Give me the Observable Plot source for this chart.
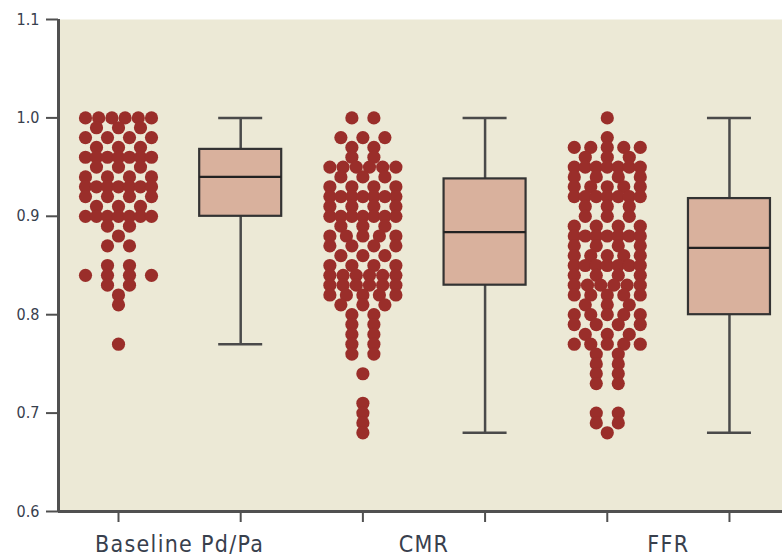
<!DOCTYPE html>
<html><head><meta charset="utf-8">
<script src="https://cdn.jsdelivr.net/npm/d3@7"></script>
<script src="https://cdn.jsdelivr.net/npm/@observablehq/plot@0.6"></script>
<style>
body{margin:0;background:#fff}
g[aria-label="x-axis tick label"] text{letter-spacing:1.3px}
</style>
</head><body><div id="chart"></div>
<script>
// ---- data ----
const groups = ["Baseline Pd/Pa", "CMR", "FFR"];
// value levels of the dot rows (top to bottom)
const levels = [1.00, 0.99, 0.98, 0.97, 0.96, 0.95, 0.94, 0.93, 0.92, 0.91, 0.90,
                0.89, 0.88, 0.87, 0.86, 0.85, 0.84, 0.83, 0.82, 0.81, 0.80,
                0.79, 0.78, 0.77, 0.76, 0.75, 0.74, 0.73, 0.72, 0.71, 0.70, 0.69, 0.68];
// number of dots at each level
const baselineCounts = [6, 3, 4, 3, 7, 3, 4, 7, 4, 3, 7, 2, 1, 2, 0, 2, 4, 2, 1, 1, 0, 0, 0, 1, 0, 0, 0, 0, 0, 0, 0, 0, 0];
const cmrCounts      = [2, 0, 3, 2, 2, 6, 3, 4, 7, 4, 7, 3, 5, 4, 3, 4, 6, 6, 5, 3, 2, 2, 2, 2, 2, 0, 1, 0, 0, 1, 1, 1, 1];
const ffrCounts      = [1, 0, 1, 5, 3, 7, 4, 5, 7, 3, 3, 4, 7, 4, 5, 7, 4, 6, 5, 3, 5, 4, 3, 5, 2, 2, 2, 2, 0, 0, 2, 2, 1];
// box plot statistics
const boxMin    = [0.77, 0.68, 0.68];
const boxQ1     = [0.90, 0.83, 0.80];
const boxMedian = [0.94, 0.884, 0.868];
const boxQ3     = [0.968, 0.938, 0.918];
const boxMax    = [1.00, 1.00, 1.00];
const yTicks = [0.6, 0.7, 0.8, 0.9, 1.0, 1.1];

// ---- layout ----
const W = 782, H = 558, mL = 58, mR = 0, mT = 19, mB = 47;
const xDomain = [-0.491, 5.434];
const pxPerUnit = (W - mL - mR) / (xDomain[1] - xDomain[0]);
const dotPos = g => g * 2;
const boxPos = g => g * 2 + 1;

const dots = [];
[baselineCounts, cmrCounts, ffrCounts].forEach((counts, g) => {
  counts.forEach((n, i) => {
    if (!n) return;
    const sp = n > 1 ? Math.min(22, 66 / (n - 1)) : 0;
    for (let k = 0; k < n; k++) {
      dots.push({group: groups[g], value: levels[i], x: dotPos(g) + (k - (n - 1) / 2) * sp / pxPerUnit});
    }
  });
});
const boxes = groups.map((g, i) => ({group: g, x: boxPos(i), min: boxMin[i], q1: boxQ1[i], med: boxMedian[i], q3: boxQ3[i], max: boxMax[i]}));
const boxHalf = 41 / pxPerUnit, capHalf = 22 / pxPerUnit;

const axisColor = "#505050";
const textColor = "#38404d";
const font = "'DejaVu Sans Condensed', 'Liberation Sans Narrow', 'DejaVu Sans', sans-serif";

const chart = Plot.plot({
  width: W, height: H,
  marginLeft: mL, marginRight: mR, marginTop: mT, marginBottom: mB,
  style: {fontFamily: font, background: "#fff"},
  x: {domain: xDomain},
  y: {domain: [0.6, 1.1]},
  marks: [
    Plot.frame({fill: "#ECE9D6", stroke: null}),
    Plot.dot(dots, {x: "x", y: "value", r: 6.6, fill: "#9A2E2A", stroke: null}),
    Plot.ruleX(boxes, {x: "x", y1: "q3", y2: "max", stroke: "#4a4a4a", strokeWidth: 2.5}),
    Plot.ruleX(boxes, {x: "x", y1: "min", y2: "q1", stroke: "#4a4a4a", strokeWidth: 2.5}),
    Plot.rect(boxes, {x1: d => d.x - boxHalf, x2: d => d.x + boxHalf, y1: "q1", y2: "q3", fill: "#D9B19D", stroke: "#333", strokeWidth: 2.2}),
    Plot.ruleY(boxes, {y: "med", x1: d => d.x - boxHalf, x2: d => d.x + boxHalf, stroke: "#222", strokeWidth: 2.2}),
    Plot.ruleY(boxes, {y: "max", x1: d => d.x - capHalf, x2: d => d.x + capHalf, stroke: "#4a4a4a", strokeWidth: 2.5}),
    Plot.ruleY(boxes, {y: "min", x1: d => d.x - capHalf, x2: d => d.x + capHalf, stroke: "#4a4a4a", strokeWidth: 2.5}),
    Plot.ruleX([xDomain[0]], {stroke: axisColor, strokeWidth: 3}),
    Plot.ruleY([0.6], {stroke: axisColor, strokeWidth: 3}),
    Plot.axisY({ticks: yTicks, tickFormat: d3.format(".1f"), tickSize: 12, tickPadding: 7, fontSize: 16,
                stroke: axisColor, strokeWidth: 2, fill: textColor, label: null}),
    Plot.axisX({ticks: [0, 1, 2, 3, 4, 5], tickFormat: () => "", tickSize: 11,
                stroke: axisColor, strokeWidth: 2, label: null}),
    Plot.axisX({ticks: [0.5, 2.5, 4.5], tickFormat: d => groups[Math.round((d - 0.5) / 2)], tickSize: 0,
                tickPadding: 24, fontSize: 23, fill: textColor, label: null})
  ]
});
document.getElementById("chart").appendChild(chart);
</script>
</body></html>
